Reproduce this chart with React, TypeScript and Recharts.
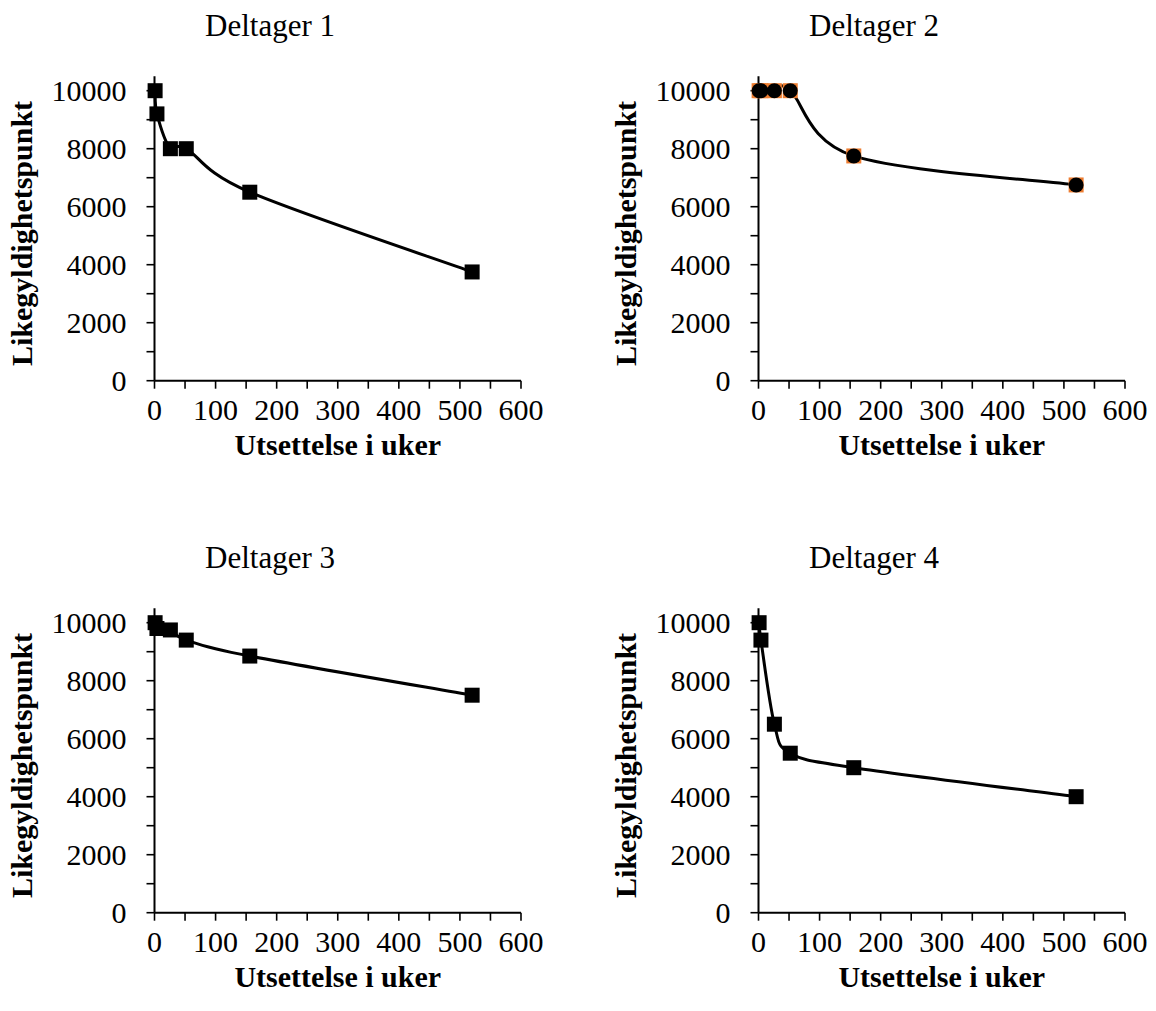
import React from 'react';
import { ComposedChart, Line, XAxis, YAxis } from 'recharts';

// Delay in weeks (x) for each choice point
const WEEKS = [1, 4, 26, 52, 156, 520];
// Indifference points per participant
const DELTAGER_1 = [10000, 9200, 8000, 8000, 6500, 3750];
const DELTAGER_2 = [10000, 10000, 10000, 10000, 7750, 6750];
const DELTAGER_3 = [10000, 9800, 9750, 9400, 8850, 7500];
const DELTAGER_4 = [10000, 9400, 6500, 5500, 5000, 4000];

const TITLES = ['Deltager 1', 'Deltager 2', 'Deltager 3', 'Deltager 4'];
const X_TITLE = 'Utsettelse i uker';
const Y_TITLE = 'Likegyldighetspunkt';

const X_TICKS = [0, 50, 100, 150, 200, 250, 300, 350, 400, 450, 500, 550, 600];
const Y_TICKS = [0, 1000, 2000, 3000, 4000, 5000, 6000, 7000, 8000, 9000, 10000];

const FONT = '"Liberation Serif", "Times New Roman", Times, serif';
const FS = 30;
const FS_TITLE = 31;

// Excel-like smoothed line (Catmull-Rom through the points)
function excelSmooth(context: any) {
  let pts: number[][] = [];
  return {
    areaStart() {},
    areaEnd() {},
    lineStart() {
      pts = [];
    },
    lineEnd() {
      const n = pts.length;
      if (!n) return;
      context.moveTo(pts[0][0], pts[0][1]);
      for (let i = 0; i < n - 1; i++) {
        const p0 = pts[i - 1] || pts[i];
        const p1 = pts[i];
        const p2 = pts[i + 1];
        const p3 = pts[i + 2] || p2;
        const c1x = p1[0] + (p2[0] - p0[0]) / 6;
        const c1y = p1[1] + (p2[1] - p0[1]) / 6;
        const c2x = p2[0] - (p3[0] - p1[0]) / 6;
        const c2y = p2[1] - (p3[1] - p1[1]) / 6;
        context.bezierCurveTo(c1x, c1y, c2x, c2y, p2[0], p2[1]);
      }
    },
    point(x: number, y: number) {
      pts.push([+x, +y]);
    },
  };
}

function XTick(props: any) {
  const { x, y, payload } = props;
  if (payload.value % 100 !== 0) return <g />;
  return (
    <text x={x} y={y} dy={31.3} textAnchor="middle" fontFamily={FONT} fontSize={FS} fill="#000">
      {payload.value}
    </text>
  );
}

function YTick(props: any) {
  const { x, y, payload } = props;
  if (payload.value % 2000 !== 0) return <g />;
  return (
    <text x={x} y={y} dy={10.5} textAnchor="end" fontFamily={FONT} fontSize={FS} fill="#000">
      {payload.value}
    </text>
  );
}

const squareDot = (color: string) => (p: any) => (
  <rect key={`s-${p.index}`} x={p.cx - 7.5} y={p.cy - 7.5} width={15} height={15} fill={color} />
);
const circleDot = (p: any) => <circle key={`c-${p.index}`} cx={p.cx} cy={p.cy} r={7.5} fill="#000" />;

const W = 550;
const H = 478;
const TOP = 76.2;
const PLOT_H = 304.5;
const LEFT = 154.5;
const PLOT_W = 366.5;

function Panel({ values, title, left, top, circles }: any) {
  const data = WEEKS.map((w, i) => ({ x: w, y: values[i] }));
  const axisStyle = { stroke: '#000', strokeWidth: 2 };
  const tickStyle = { stroke: '#000', strokeWidth: 1.6 };
  return (
    <div style={{ position: 'absolute', left, top, width: W, height: H }}>
      <ComposedChart
        width={W}
        height={H}
        data={data}
        margin={{ top: TOP, right: W - LEFT - PLOT_W, bottom: 0, left: 0 }}
      >
        <XAxis
          dataKey="x"
          type="number"
          domain={[0, 600]}
          ticks={X_TICKS}
          interval={0}
          tick={XTick}
          tickSize={8}
          tickMargin={0}
          axisLine={axisStyle}
          tickLine={tickStyle}
          height={H - TOP - PLOT_H}
        />
        <YAxis
          type="number"
          domain={[0, 10500]}
          ticks={Y_TICKS}
          interval={0}
          tick={YTick}
          tickSize={8}
          tickMargin={20}
          axisLine={axisStyle}
          tickLine={tickStyle}
          width={LEFT}
        />
        {circles && (
          <Line
            dataKey="y"
            type={excelSmooth as any}
            stroke="none"
            dot={squareDot('#ED7D31')}
            activeDot={false}
            isAnimationActive={false}
          />
        )}
        <Line
          dataKey="y"
          type={excelSmooth as any}
          stroke="#000"
          strokeWidth={3}
          dot={circles ? circleDot : squareDot('#000')}
          activeDot={false}
          isAnimationActive={false}
        />
        <text x={270} y={36} textAnchor="middle" fontFamily={FONT} fontSize={FS_TITLE} fill="#000">
          {title}
        </text>
        <text
          x={LEFT + PLOT_W / 2}
          y={455}
          textAnchor="middle"
          fontFamily={FONT}
          fontSize={FS}
          fontWeight="bold"
          fill="#000"
        >
          {X_TITLE}
        </text>
        <text
          transform={`translate(32, ${TOP + PLOT_H / 2 + 5}) rotate(-90)`}
          textAnchor="middle"
          fontFamily={FONT}
          fontSize={FS}
          fontWeight="bold"
          fill="#000"
        >
          {Y_TITLE}
        </text>
      </ComposedChart>
    </div>
  );
}

export default function App() {
  return (
    <div>
      <Panel values={DELTAGER_1} title={TITLES[0]} left={0} top={0} />
      <Panel values={DELTAGER_2} title={TITLES[1]} left={604} top={0} circles />
      <Panel values={DELTAGER_3} title={TITLES[2]} left={0} top={532} />
      <Panel values={DELTAGER_4} title={TITLES[3]} left={604} top={532} />
    </div>
  );
}
